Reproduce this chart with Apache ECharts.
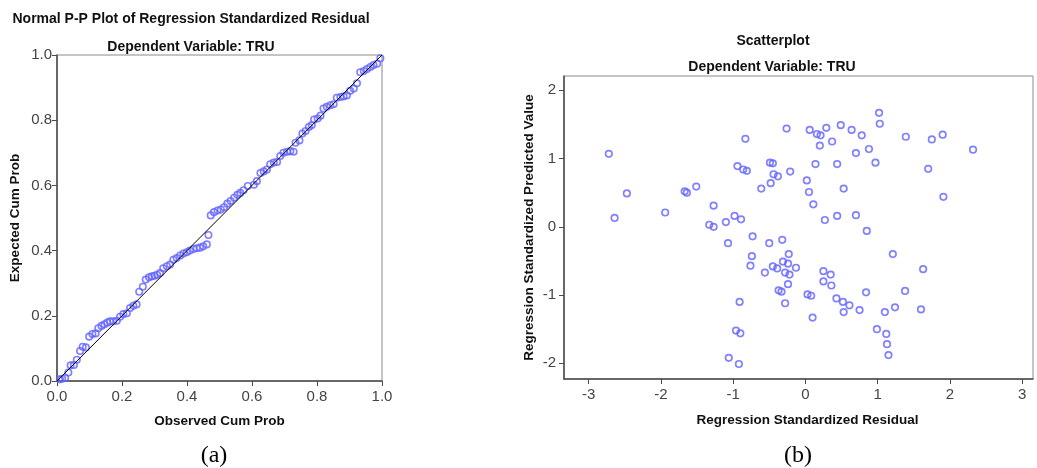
<!DOCTYPE html>
<html>
<head>
<meta charset="utf-8">
<script src="https://cdn.jsdelivr.net/npm/echarts@6/dist/echarts.min.js"></script>
<style>
  body { margin: 0; background: #fff; }
  #main { width: 1037px; height: 468px; }
</style>
</head>
<body>
<div id="main"></div>
<script>
// (a) normal P-P plot
var ppObserved = [0.009, 0.016, 0.025, 0.035, 0.042, 0.052, 0.061, 0.071, 0.079, 0.089,
  0.099, 0.109, 0.119, 0.127, 0.137, 0.146, 0.155, 0.163, 0.173, 0.184,
  0.194, 0.204, 0.215, 0.225, 0.235, 0.245, 0.253, 0.264, 0.273, 0.283,
  0.292, 0.300, 0.308, 0.317, 0.327, 0.338, 0.348, 0.358, 0.368, 0.379,
  0.389, 0.399, 0.409, 0.420, 0.430, 0.440, 0.450, 0.461, 0.466, 0.473,
  0.483, 0.494, 0.504, 0.514, 0.524, 0.534, 0.545, 0.555, 0.564, 0.574,
  0.587, 0.606, 0.615, 0.626, 0.636, 0.646, 0.656, 0.667, 0.677, 0.687,
  0.697, 0.708, 0.718, 0.728, 0.734, 0.746, 0.755, 0.765, 0.775, 0.784,
  0.791, 0.802, 0.811, 0.820, 0.830, 0.841, 0.851, 0.861, 0.872, 0.882,
  0.892, 0.902, 0.913, 0.923, 0.933, 0.944, 0.954, 0.964, 0.974, 0.985, 0.995]
var ppExpected = [0.005, 0.007, 0.009, 0.026, 0.048, 0.049, 0.065, 0.092, 0.105, 0.103,
  0.136, 0.144, 0.146, 0.162, 0.169, 0.174, 0.179, 0.183, 0.183, 0.185,
  0.197, 0.205, 0.208, 0.224, 0.231, 0.235, 0.274, 0.289, 0.311, 0.318,
  0.321, 0.323, 0.326, 0.331, 0.346, 0.352, 0.357, 0.372, 0.377, 0.385,
  0.391, 0.395, 0.400, 0.405, 0.407, 0.409, 0.413, 0.419, 0.448, 0.508,
  0.518, 0.523, 0.526, 0.533, 0.544, 0.552, 0.562, 0.571, 0.577, 0.585,
  0.598, 0.602, 0.613, 0.638, 0.643, 0.649, 0.665, 0.670, 0.672, 0.690,
  0.700, 0.703, 0.705, 0.703, 0.731, 0.738, 0.759, 0.767, 0.779, 0.785,
  0.802, 0.805, 0.814, 0.836, 0.841, 0.846, 0.849, 0.869, 0.871, 0.873,
  0.876, 0.890, 0.897, 0.913, 0.947, 0.951, 0.957, 0.963, 0.969, 0.973, 0.990]
var ppTicks = [0, 0.2, 0.4, 0.6, 0.8, 1.0]

// (b) residual vs predicted scatter
var residual = [-2.72, -2.47, -2.64, -1.94, -1.67, -1.64, -1.51, -1.27, -1.33, -1.27,
  -1.10, -0.98, -0.89, -1.07, -0.73, -0.50, -0.32, -0.83, -0.94, -0.86,
  -0.81, -0.61, -0.48, -0.49, -0.45, -0.44, -0.38, -0.26, -0.21,
  0.06, 0.16, 0.21, 0.29, 0.49, 0.64, 0.78, 1.02, 1.03, 1.39,
  1.75, 1.90, 2.32, 0.20, 0.37, 0.70, 0.88, 0.97, 0.14, 0.44,
  1.70, 0.02, 0.05, 0.53, 1.91, 0.11, 0.27, 0.44, 0.70, 0.85,
  -0.74, -0.76, -0.23, -0.31, -0.24, -0.45, -0.39, -0.13, -0.56, -0.28,
  -0.22, -0.24, -0.37, -0.33, -0.28, -0.91, -0.96, -0.90, -1.06, -0.92,
  1.21, 1.63, 0.25, 0.35, 0.25, 0.36, 0.03, 0.08, 0.84, 1.38,
  0.43, 0.52, 0.61, 0.53, 0.75, 1.10, 1.24, 1.60, 0.10, 0.99,
  1.12, 1.13, 1.15]
var predicted = [1.07, 0.49, 0.13, 0.21, 0.52, 0.50, 0.59, 0.31, 0.03, 0.00,
  0.07, 0.16, 0.11, -0.24, -0.14, -0.24, -0.19, 1.29, 0.89, 0.84,
  0.82, 0.56, 0.64, 0.94, 0.93, 0.77, 0.74, 1.44, 0.81,
  1.42, 1.36, 1.34, 1.45, 1.49, 1.42, 1.34, 1.67, 1.51, 1.32,
  1.28, 1.35, 1.13, 1.19, 1.25, 1.08, 1.14, 0.94, 0.92, 0.92,
  0.85, 0.68, 0.51, 0.56, 0.44, 0.33, 0.10, 0.16, 0.17, -0.06,
  -0.43, -0.57, -0.40, -0.51, -0.54, -0.58, -0.61, -0.60, -0.67, -0.67,
  -0.70, -0.84, -0.93, -0.95, -1.12, -1.10, -1.52, -1.56, -1.92, -2.01,
  -0.40, -0.62, -0.65, -0.70, -0.80, -0.86, -0.99, -1.01, -0.96, -0.94,
  -1.05, -1.10, -1.15, -1.25, -1.22, -1.25, -1.18, -1.21, -1.33, -1.50,
  -1.57, -1.72, -1.88]
var residualTicks = [-3, -2, -1, 0, 1, 2, 3]
var predictedTicks = [-2, -1, 0, 1, 2]

var ppData = ppObserved.map(function (v, i) { return [v, ppExpected[i]] })
var scatterData = residual.map(function (v, i) { return [v, predicted[i]] })

var chartDom = document.getElementById("main")
var myChart = echarts.init(chartDom)
var option

var sans = "Liberation Sans"
var dotColor = "#6161ff"
var axisDark = "#4a4a4a"
var labelStyle = { color: "#444", fontSize: 15, fontFamily: sans }
var nameStyle = { color: "#111", fontSize: 13.5, fontWeight: "bold", fontFamily: sans }
var headStyle = { color: "#111", fontSize: 14, fontWeight: "bold", fontFamily: sans }
var capStyle = { color: "#000", fontSize: 24, fontWeight: "normal", fontFamily: "Liberation Serif" }

option = {
  animation: false,
  backgroundColor: "#fff",
  title: [
    { text: "Normal P-P Plot of Regression Standardized Residual", left: 186, top: 7, textAlign: "center", textStyle: headStyle },
    { text: "Dependent Variable: TRU", left: 186, top: 35, textAlign: "center", textStyle: headStyle },
    { text: "Scatterplot", left: 768, top: 29, textAlign: "center", textStyle: headStyle },
    { text: "Dependent Variable: TRU", left: 767, top: 55, textAlign: "center", textStyle: headStyle },
    { text: "(a)", left: 209, top: 439, textAlign: "center", textStyle: capStyle },
    { text: "(b)", left: 793, top: 439, textAlign: "center", textStyle: capStyle }
  ],
  grid: [
    { left: 57, top: 55, width: 325, height: 326, show: true, borderColor: "#8a8a8a", borderWidth: 1 },
    { left: 564, top: 76, width: 469, height: 303, show: true, borderColor: "#8a8a8a", borderWidth: 1 }
  ],
  xAxis: [
    {
      gridIndex: 0, type: "value", min: 0, max: 1, interval: 0.2,
      name: "Observed Cum Prob", nameLocation: "middle", nameGap: 33, nameTextStyle: nameStyle,
      axisLine: { lineStyle: { color: axisDark, width: 1.5 } },
      axisTick: { length: 5, lineStyle: { color: axisDark } },
      axisLabel: Object.assign({ margin: 8, formatter: function (v) { return v.toFixed(1) } }, labelStyle),
      splitLine: { show: false }
    },
    {
      gridIndex: 1, type: "value", min: -3.34, max: 3.15,
      name: "Regression Standardized Residual", nameLocation: "middle", nameGap: 34,
      nameTextStyle: Object.assign({ padding: [0, 0, 0, 18] }, nameStyle),
      axisLine: { onZero: false, lineStyle: { color: axisDark, width: 1.5 } },
      axisTick: { length: 5, customValues: residualTicks, lineStyle: { color: axisDark } },
      axisLabel: Object.assign({ margin: 8, customValues: residualTicks }, labelStyle),
      splitLine: { show: false }
    }
  ],
  yAxis: [
    {
      gridIndex: 0, type: "value", min: 0, max: 1, interval: 0.2,
      name: "Expected Cum Prob", nameLocation: "middle", nameGap: 35, nameTextStyle: nameStyle,
      axisLine: { lineStyle: { color: axisDark, width: 1.5 } },
      axisTick: { length: 5, lineStyle: { color: axisDark } },
      axisLabel: Object.assign({ margin: 5, formatter: function (v) { return v.toFixed(1) } }, labelStyle),
      splitLine: { show: false }
    },
    {
      gridIndex: 1, type: "value", min: -2.23, max: 2.21,
      name: "Regression Standardized Predicted Value", nameLocation: "middle", nameGap: 28, nameTextStyle: nameStyle,
      axisLine: { onZero: false, lineStyle: { color: axisDark, width: 1.5 } },
      axisTick: { length: 5, customValues: predictedTicks, lineStyle: { color: axisDark } },
      axisLabel: Object.assign({ margin: 8, customValues: predictedTicks }, labelStyle),
      splitLine: { show: false }
    }
  ],
  series: [
    {
      type: "line", xAxisIndex: 0, yAxisIndex: 0,
      data: [[ppTicks[0], ppTicks[0]], [ppTicks[5], ppTicks[5]]],
      symbol: "none", silent: true, z: 3,
      lineStyle: { color: "#000", width: 1 }
    },
    {
      type: "scatter", xAxisIndex: 0, yAxisIndex: 0, data: ppData,
      symbol: "circle", symbolSize: 6.5, z: 2,
      itemStyle: { color: "rgba(255,255,255,0)", borderColor: dotColor, borderWidth: 1.6 }
    },
    {
      type: "scatter", xAxisIndex: 1, yAxisIndex: 1, data: scatterData,
      symbol: "circle", symbolSize: 6.5,
      itemStyle: { color: "rgba(255,255,255,0)", borderColor: dotColor, borderWidth: 1.7 }
    }
  ]
}

option && myChart.setOption(option)
</script>
</body>
</html>
